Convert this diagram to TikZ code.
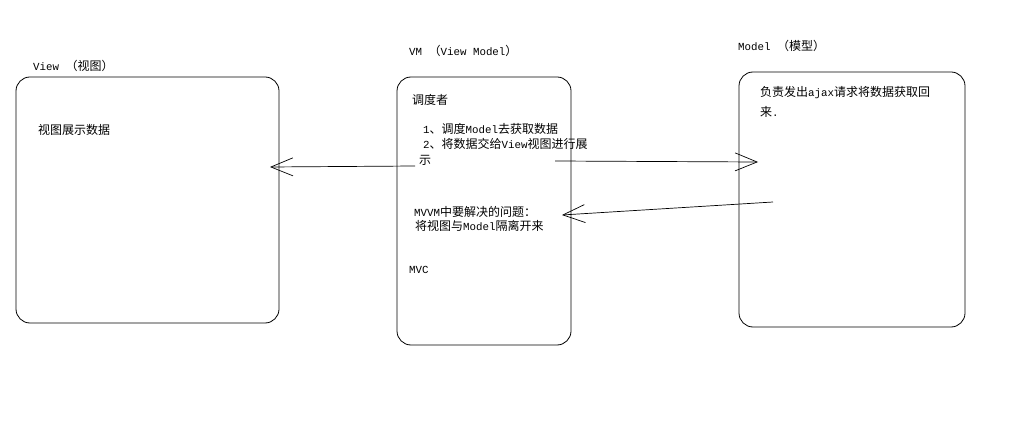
\documentclass[tikz,border=0pt]{standalone}
\usepackage{fontspec}
\setmainfont{Liberation Mono}[Scale=0.9]
\newfontfamily\cjk{Noto Sans CJK SC}
\usetikzlibrary{arrows.meta}
\newcommand{\zh}[1]{{\cjk #1}}

\begin{document}
\begin{tikzpicture}[x = 1pt, y = -1pt,
    box/.style = {draw, rounded corners = 14pt, line width = .8pt, inner sep = 0pt},
    txt/.style = {anchor = west, inner sep = 0pt, font = \fontsize{12}{14}\selectfont},
    arr/.style = {-{Straight Barb[length = 22pt, width = 18pt]}, line width = .7pt}]%
    \useasboundingbox (0, 0) rectangle (1014, 430);
    % the three boxes
    \node[box, minimum width = 263pt, minimum height = 246pt] (view) at (147.5, 200) {};
    \node[box, minimum width = 174pt, minimum height = 268pt] (vm) at (484, 211) {};
    \node[box, minimum width = 226pt, minimum height = 255pt] (model) at (852, 199.5) {};
    % titles
    \node[txt] (viewtitle) at (33, 66) {View \zh{（视图）}};
    \node[txt] (vmtitle) at (409, 51) {VM \zh{（}View Model\zh{）}};
    \node[txt] (modeltitle) at (738, 46) {Model \zh{（模型）}};
    % box texts
    \node[txt] (viewtext) at (38, 130) {\zh{视图展示数据}};
    \node[txt] (vmrole) at (412, 100) {\zh{调度者}};
    \node[txt] (vmstepa) at (423, 129) {1\zh{、调度}Model\zh{去获取数据}};
    \node[txt] (vmstepb) at (423, 144) {2\zh{、将数据交给}View\zh{视图进行展}};
    \node[txt] (vmstepc) at (419, 160) {\zh{示}};
    \node[txt] (vmgoala) at (414, 212) {MVVM\zh{中要解决的问题：}};
    \node[txt] (vmgoalb) at (415, 226) {\zh{将视图与}Model\zh{隔离开来}};
    \node[txt] (vmmvc) at (409, 270) {MVC};
    \node[txt] (modeltexta) at (760, 93) {\zh{负责发出}ajax\zh{请求将数据获取回}};
    \node[txt] (modeltextb) at (760, 112) {\zh{来}.};
    % connectors
    \coordinate (vmout) at (415, 166);
    \coordinate (viewin) at (270, 167);
    \coordinate (vmright) at (555, 161);
    \coordinate (modelin) at (758, 162);
    \coordinate (modelout) at (773, 202);
    \coordinate (vmin) at (562, 215);
    \draw[arr] (vmout) -- (viewin);
    \draw[arr] (vmright) -- (modelin);
    \draw[arr] (modelout) -- (vmin);
\end{tikzpicture}
\end{document}
